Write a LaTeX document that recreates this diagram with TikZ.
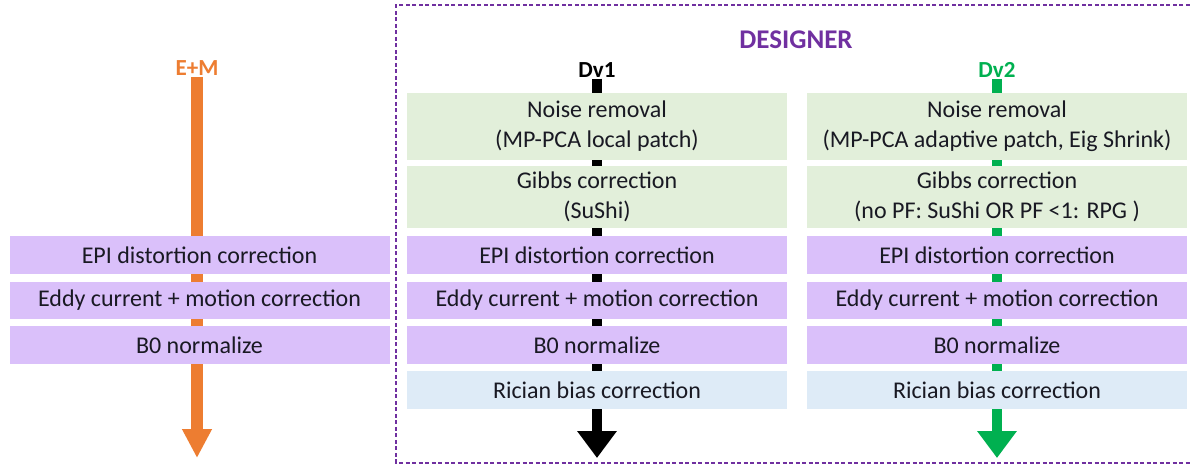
\documentclass[tikz,border=0pt]{standalone}
\usepackage{fontspec}
\setmainfont{Carlito}
\usetikzlibrary{arrows.meta,backgrounds}
\definecolor{emorange}{RGB}{237,125,49}
\definecolor{dvgreen}{RGB}{0,176,80}
\definecolor{dspurple}{RGB}{112,48,160}
\definecolor{stepgreen}{RGB}{226,239,218}
\definecolor{steplilac}{RGB}{218,192,250}
\definecolor{stepblue}{RGB}{222,235,247}
\definecolor{steptext}{RGB}{25,25,35}
\begin{document}
\begin{tikzpicture}[x=1pt,y=-1pt,
  stepbox/.style={minimum width=380pt,inner sep=0pt,align=center,text=steptext,
    font=\fontsize{24}{30}\selectfont},
  pipelabel/.style={inner sep=1pt,font=\fontsize{23}{28}\selectfont\bfseries},
  pipearrow/.style={line width=10pt,-{Triangle[width=38pt,length=27pt]}}]
  \useasboundingbox (0,0) rectangle (1192,465);
  \pgfmathsetmacro{\xem}{199.5}
  \pgfmathsetmacro{\xone}{597}
  \pgfmathsetmacro{\xtwo}{997}
  % designer frame
  \draw[dspurple,line width=1.1pt,dash pattern=on 4pt off 2.5pt] (1196,5) -- (396,5) -- (396,463) -- (1196,463);
  \node[pipelabel,text=dspurple,font=\fontsize{27}{30}\selectfont\bfseries] (designer) at (796,40) {DESIGNER};
  % labels
  \node[pipelabel,text=emorange] (em) at (197,68) {E+M};
  \node[pipelabel] (dvone) at (\xone,70) {Dv1};
  \node[pipelabel,text=dvgreen] (dvtwo) at (\xtwo,70) {Dv2};
  \coordinate (emend) at (197,458);
  \coordinate (dvoneend) at (\xone,458);
  \coordinate (dvtwoend) at (\xtwo,458);
  % E+M steps
  \node[stepbox,fill=steplilac,minimum height=38pt] (emepi) at (\xem,255) {EPI distortion correction};
  \node[stepbox,fill=steplilac,minimum height=37pt] (emeddy) at (\xem,300.5) {Eddy current + motion correction};
  \node[stepbox,fill=steplilac,minimum height=38pt] (emb0) at (\xem,345) {B0 normalize};
  % designer steps
  \node[stepbox,fill=stepgreen,minimum height=67pt] (onenoise) at (\xone,126.5) {Noise removal\\(MP-PCA local patch)};
  \node[stepbox,fill=stepgreen,minimum height=62pt] (onegibbs) at (\xone,197) {Gibbs correction\\(SuShi)};
  \node[stepbox,fill=stepgreen,minimum height=67pt] (twonoise) at (\xtwo,126.5) {Noise removal\\(MP-PCA adaptive patch, Eig Shrink)};
  \node[stepbox,fill=stepgreen,minimum height=62pt] (twogibbs) at (\xtwo,197) {Gibbs correction\\(no PF: SuShi OR PF <1: RPG )};
  \foreach \c/\x in {one/\xone,two/\xtwo}{
    \node[stepbox,fill=steplilac,minimum height=38pt] (\c epi) at (\x,255) {EPI distortion correction};
    \node[stepbox,fill=steplilac,minimum height=37pt] (\c eddy) at (\x,300.5) {Eddy current + motion correction};
    \node[stepbox,fill=steplilac,minimum height=38pt] (\c b0) at (\x,345) {B0 normalize};
    \node[stepbox,fill=stepblue,minimum height=38pt] (\c rician) at (\x,390) {Rician bias correction};
  }
  \begin{scope}[on background layer]
    \draw[pipearrow,emorange,line width=12pt,-{Triangle[width=28pt,length=29pt]}] (em.south) -- (emend);
    \draw[pipearrow,black] (dvone.south) -- (dvoneend);
    \draw[pipearrow,dvgreen] (dvtwo.south) -- (dvtwoend);
  \end{scope}
\end{tikzpicture}
\end{document}
